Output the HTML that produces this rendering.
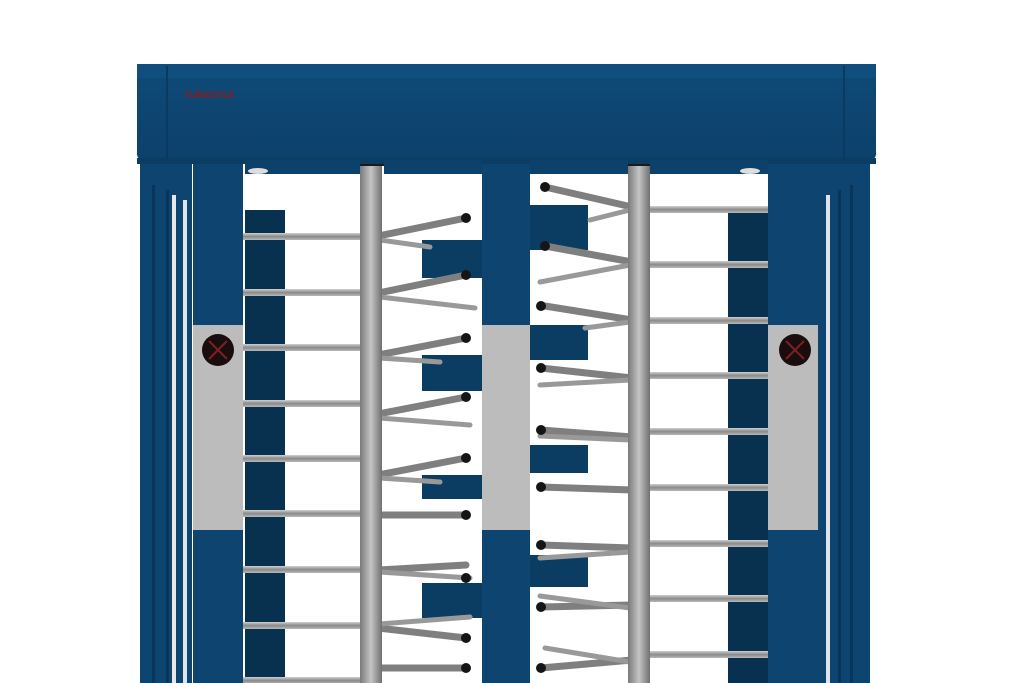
<!DOCTYPE html>
<html><head><meta charset="utf-8"><style>
html,body{margin:0;padding:0;background:#fff;width:1024px;height:683px;overflow:hidden}
</style></head><body>
<svg width="1024" height="683" viewBox="0 0 1024 683" xmlns="http://www.w3.org/2000/svg">
<defs>
<linearGradient id="bar" x1="0" y1="0" x2="0" y2="1"><stop offset="0" stop-color="#d0d0d0"/><stop offset="0.5" stop-color="#8a8a8a"/><stop offset="1" stop-color="#b8b8b8"/></linearGradient>
<linearGradient id="shaft" x1="0" y1="0" x2="1" y2="0"><stop offset="0" stop-color="#7a7a7a"/><stop offset="0.5" stop-color="#c4c4c4"/><stop offset="1" stop-color="#707070"/></linearGradient>
<linearGradient id="beam" x1="0" y1="0" x2="0" y2="1"><stop offset="0" stop-color="#0f4a78"/><stop offset="1" stop-color="#0c416b"/></linearGradient>
</defs>
<!-- left outer bars -->
<rect x="140" y="160" width="52" height="523" fill="#0e4470"/>
<rect x="152" y="185" width="3" height="498" fill="#0a3458"/>
<rect x="166" y="190" width="3" height="493" fill="#0a3458"/>
<rect x="172" y="195" width="4" height="488" fill="#e8e8e8"/>
<rect x="183" y="200" width="4" height="483" fill="#dfe4ea"/>
<!-- right outer bars -->
<rect x="818" y="160" width="52" height="523" fill="#0e4470"/>
<rect x="826" y="195" width="4" height="488" fill="#dfe4ea"/>
<rect x="838" y="190" width="3" height="493" fill="#0a3458"/>
<rect x="850" y="185" width="3" height="498" fill="#0a3458"/>
<!-- left dark blocks -->
<rect x="245" y="210" width="40" height="473" fill="#08304f"/>
<!-- right dark blocks -->
<rect x="728" y="212" width="40" height="471" fill="#08304f"/>
<!-- middle dark blocks -->
<rect x="422" y="240" width="60" height="38" fill="#0b3d63"/>
<rect x="422" y="355" width="60" height="36" fill="#0b3d63"/>
<rect x="422" y="475" width="60" height="24" fill="#0b3d63"/>
<rect x="422" y="583" width="60" height="35" fill="#0b3d63"/>
<rect x="530" y="205" width="58" height="45" fill="#0b3d63"/>
<rect x="530" y="325" width="58" height="35" fill="#0b3d63"/>
<rect x="530" y="445" width="58" height="28" fill="#0b3d63"/>
<rect x="530" y="555" width="58" height="32" fill="#0b3d63"/>
<!-- left horizontal bars -->
<g fill="url(#bar)">
<rect x="243" y="233" width="120" height="7"/><rect x="243" y="289" width="120" height="7"/><rect x="243" y="344" width="120" height="7"/>
<rect x="243" y="400" width="120" height="7"/><rect x="243" y="455" width="120" height="7"/><rect x="243" y="510" width="120" height="7"/>
<rect x="243" y="566" width="120" height="7"/><rect x="243" y="622" width="120" height="7"/><rect x="243" y="677" width="120" height="7"/>
<!-- right horizontal bars -->
<rect x="648" y="206" width="120" height="7"/><rect x="648" y="261" width="120" height="7"/><rect x="648" y="317" width="120" height="7"/>
<rect x="648" y="372" width="120" height="7"/><rect x="648" y="428" width="120" height="7"/><rect x="648" y="484" width="120" height="7"/>
<rect x="648" y="540" width="120" height="7"/><rect x="648" y="595" width="120" height="7"/><rect x="648" y="651" width="120" height="7"/>
</g>
<!-- left rotor arms -->
<g stroke="#7f7f7f" stroke-width="7" stroke-linecap="round">
<line x1="378" y1="236" x2="466" y2="218"/><line x1="378" y1="293" x2="466" y2="275"/><line x1="378" y1="355" x2="466" y2="338"/>
<line x1="378" y1="414" x2="466" y2="397"/><line x1="378" y1="475" x2="466" y2="458"/><line x1="378" y1="515" x2="466" y2="515"/>
<line x1="378" y1="570" x2="466" y2="565"/><line x1="378" y1="628" x2="466" y2="638"/><line x1="378" y1="668" x2="466" y2="668"/>
</g>
<g stroke="#999" stroke-width="5" stroke-linecap="round">
<line x1="380" y1="240" x2="430" y2="247"/><line x1="380" y1="297" x2="475" y2="308"/><line x1="380" y1="358" x2="440" y2="362"/>
<line x1="380" y1="418" x2="470" y2="425"/><line x1="380" y1="478" x2="440" y2="482"/><line x1="380" y1="572" x2="470" y2="578"/>
<line x1="380" y1="624" x2="470" y2="617"/>
</g>
<g fill="#151515">
<circle cx="466" cy="218" r="5"/><circle cx="466" cy="275" r="5"/><circle cx="466" cy="338" r="5"/><circle cx="466" cy="397" r="5"/>
<circle cx="466" cy="458" r="5"/><circle cx="466" cy="515" r="5"/><circle cx="466" cy="578" r="5"/><circle cx="466" cy="638" r="5"/><circle cx="466" cy="668" r="5"/>
</g>
<!-- left shaft -->
<rect x="360" y="162" width="22" height="521" fill="url(#shaft)"/>
<rect x="356" y="158" width="30" height="8" fill="#1a1a1a"/>
<!-- right rotor arms -->
<g stroke="#7f7f7f" stroke-width="7" stroke-linecap="round">
<line x1="632" y1="207" x2="545" y2="187"/><line x1="632" y1="262" x2="545" y2="246"/><line x1="632" y1="320" x2="545" y2="306"/>
<line x1="632" y1="378" x2="541" y2="368"/><line x1="632" y1="437" x2="541" y2="430"/><line x1="632" y1="490" x2="541" y2="487"/>
<line x1="632" y1="548" x2="541" y2="545"/><line x1="632" y1="605" x2="541" y2="607"/><line x1="632" y1="660" x2="541" y2="668"/>
</g>
<g stroke="#999" stroke-width="5" stroke-linecap="round">
<line x1="630" y1="210" x2="590" y2="220"/><line x1="630" y1="265" x2="540" y2="282"/><line x1="630" y1="322" x2="585" y2="328"/>
<line x1="630" y1="380" x2="540" y2="385"/><line x1="630" y1="440" x2="540" y2="436"/><line x1="630" y1="552" x2="540" y2="558"/>
<line x1="630" y1="608" x2="540" y2="596"/><line x1="630" y1="662" x2="545" y2="648"/>
</g>
<g fill="#151515">
<circle cx="545" cy="187" r="5"/><circle cx="545" cy="246" r="5"/><circle cx="541" cy="306" r="5"/><circle cx="541" cy="368" r="5"/>
<circle cx="541" cy="430" r="5"/><circle cx="541" cy="487" r="5"/><circle cx="541" cy="545" r="5"/><circle cx="541" cy="607" r="5"/><circle cx="541" cy="668" r="5"/>
</g>
<!-- right shaft -->
<rect x="628" y="162" width="22" height="521" fill="url(#shaft)"/>
<rect x="624" y="158" width="30" height="8" fill="#1a1a1a"/>
<!-- posts -->
<rect x="193" y="155" width="50" height="528" fill="#0e4470"/>
<rect x="482" y="155" width="48" height="528" fill="#0e4470"/>
<rect x="768" y="155" width="50" height="528" fill="#0e4470"/>
<!-- grey panels -->
<rect x="193" y="325" width="50" height="205" fill="#bcbcbc"/>
<rect x="482" y="325" width="48" height="205" fill="#bcbcbc"/>
<rect x="768" y="325" width="50" height="205" fill="#bcbcbc"/>
<circle cx="218" cy="350" r="16" fill="#1a0d0d"/>
<path d="M209 341 L227 359 M227 341 L209 359" stroke="#7a2020" stroke-width="2"/>
<circle cx="795" cy="350" r="16" fill="#1a0d0d"/>
<path d="M786 341 L804 359 M804 341 L786 359" stroke="#7a2020" stroke-width="2"/>
<!-- top beam -->
<rect x="137" y="64" width="739" height="96" rx="6" fill="url(#beam)"/>
<rect x="137" y="64" width="739" height="14" fill="#104e7e"/>
<rect x="166" y="66" width="2" height="92" fill="#0a3a60"/>
<rect x="843" y="66" width="2" height="92" fill="#0a3a60"/>
<rect x="137" y="158" width="739" height="6" fill="#0b3d63"/>
<rect x="245" y="160" width="115" height="14" fill="#0c416b"/>
<rect x="650" y="160" width="118" height="14" fill="#0c416b"/>
<rect x="384" y="160" width="98" height="14" fill="#0c416b"/>
<rect x="530" y="160" width="98" height="14" fill="#0c416b"/>
<ellipse cx="258" cy="171" rx="10" ry="3" fill="#ddd"/>
<ellipse cx="750" cy="171" rx="10" ry="3" fill="#ddd"/>
<text x="184" y="98" font-family="Liberation Sans, sans-serif" font-size="9" font-weight="bold" fill="#8b1a1a">TURNSTILE</text>
</svg>
</body></html>
